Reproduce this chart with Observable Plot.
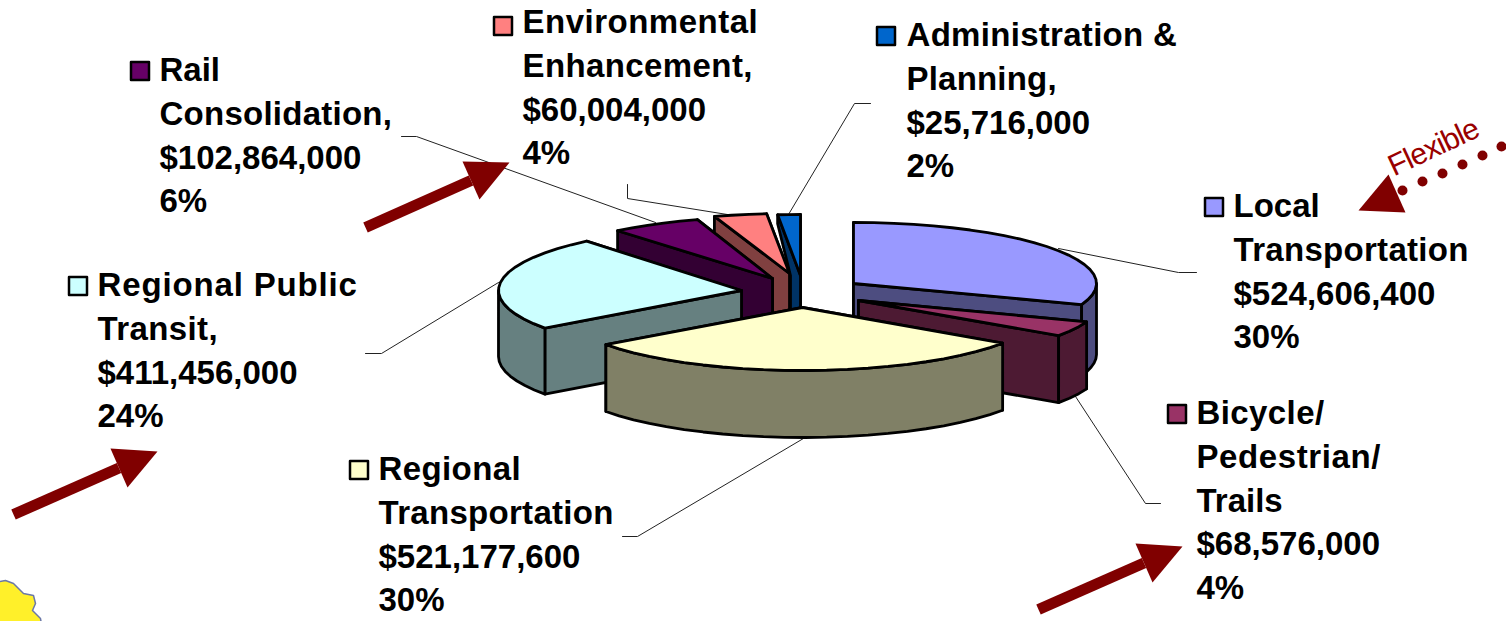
<!DOCTYPE html>
<html>
<head>
<meta charset="utf-8">
<style>html,body{margin:0;padding:0;background:#fff;overflow:hidden}svg{display:block}</style>
<script src="https://cdn.jsdelivr.net/npm/d3@7"></script>
<script src="https://cdn.jsdelivr.net/npm/@observablehq/plot@0.6"></script>
</head>
<body>
<script>
// ---- data
const categories = ["Local Transportation","Bicycle/ Pedestrian/ Trails","Regional Transportation","Regional Public Transit","Rail Consolidation,","Environmental Enhancement,","Administration & Planning,"];
const dollars = [524606400, 68576000, 521177600, 411456000, 102864000, 60004000, 25716000];
const percents = [30, 4, 30, 24, 6, 4, 2];
const nameLines = [["Local","Transportation"],["Bicycle/","Pedestrian/","Trails"],["Regional","Transportation"],["Regional Public","Transit,"],["Rail","Consolidation,"],["Environmental","Enhancement,"],["Administration &","Planning,"]];

// ---- styles
const topColors  = ["#9999ff","#993366","#ffffcc","#ccffff","#660066","#ff8080","#0066cc"];
const sideColors = ["#4d4d80","#4d1a33","#808066","#668080","#330033","#804040","#003366"];
const arrowColor = "#800000";

// ---- layout of the exploded pie: where each slice's apex sits on the page
const apexX = [853, 858, 802, 741, 772, 789, 800];
const apexY = [283, 300, 307, 290, 278, 273, 275];
const radiusY = [61, 62, 63, 64, 62, 60, 61];
const depths = [71, 67, 67, 66, 67, 67, 67];
const radiusX = 243;
const paintOrder = [6, 5, 4, 3, 0, 1, 2];

// ---- layout of the labels
const labelX = [1233, 1196, 378, 97, 159, 522, 906];
const labelY = [206, 413, 469, 285, 70, 22, 35];
const lineStep = 43.8;
const swatchX = [1205, 1168, 350, 69, 131, 494, 877];
const swatchY = [198, 405, 461, 277, 62, 17, 27];
const swatchSize = 18;
const lineTracking = {"Regional Public":0.85, "Transit,":0.4, "Transportation":0.3, "Administration &":0.3, "Environmental":0.5, "Enhancement,":0.4, "Consolidation,":0.25, "Planning,":0.2, "Pedestrian/":0.6, "Bicycle/":0.4, "Regional":0.4};

const leaders = [
  [[1196,272],[1178,272],[1058,248]],
  [[1160,503],[1145,503],[1075,396]],
  [[622,536],[637,536],[808,435]],
  [[365,353],[381,353],[498,282]],
  [[401,136],[416,136],[655,222]],
  [[627,184],[627,198],[733,215]],
  [[870,103],[854,103],[788,214]]
];
const arrows = [
  {tail:[365,227], tip:[509,162], a:[462,161], b:[479,199]},
  {tail:[13,514],  tip:[157,451], a:[110,448], b:[127,487]},
  {tail:[1038,609],tip:[1182,546],a:[1135,543],b:[1152,582]}
];
const flexibleHead = [[1358,210],[1388,174],[1405,212]];
const flexibleDots = [[1402,190],[1422,181],[1442,173],[1462,164],[1482,155],[1501,146]];
const blob = [[-5,582],[5,580],[13,583],[23,593],[33,595],[35,603],[32,610],[40,618],[42,630],[-5,630]];

// ---- geometry derived from the values
const total = d3.sum(dollars);
let running = 0;
const angles = dollars.map(v => { const a0 = running / total * 360; running += v; return [a0, running / total * 360]; });
const rad = d => d * Math.PI / 180;
const rimPoint = (i, a, dy = 0) => [apexX[i] + radiusX * Math.sin(rad(a)), apexY[i] - radiusY[i] * Math.cos(rad(a)) + dy];
const arc = (i, a0, a1, dy = 0) => {
  const n = Math.max(1, Math.ceil((a1 - a0) / 5));
  return d3.range(n + 1).map(k => rimPoint(i, a0 + (a1 - a0) * k / n, dy));
};
const apex = (i, dy = 0) => [apexX[i], apexY[i] + dy];

const poly = (pts, fill) => Plot.line([...pts, pts[0]], {x: d => d[0], y: d => d[1], fill, stroke: "#000", strokeWidth: 2.8, strokeLinejoin: "round"});

const pieMarks = [];
for (const i of paintOrder) {
  const [a0, a1] = angles[i], D = depths[i], side = sideColors[i];
  const mid = (a0 + a1) / 2;
  const wall = a => [apex(i), rimPoint(i, a), rimPoint(i, a, D), apex(i, D)];
  let startWall = wall(a0);
  if (i === 6) { // the sliver of the smallest slice shows only a narrow strip of its wall
    const r = rimPoint(i, a0);
    startWall = [apex(i), r, [r[0], r[1] + 9], [apexX[i] - 10, apexY[i]], [apexX[i] - 10, apexY[i] + D], apex(i, D)];
  }
  const walls = mid < 180 ? [startWall, wall(a1)] : [wall(a1), startWall];
  for (const w of walls) pieMarks.push(poly(w, side));
  const v0 = Math.max(a0, 90), v1 = Math.min(a1, 270);
  if (v1 > v0) pieMarks.push(poly([...arc(i, v0, v1), ...arc(i, v0, v1, D).reverse()], side));
  pieMarks.push(poly([apex(i), ...arc(i, a0, a1)], topColors[i]));
}

// ---- labels
const fmt = d3.format("$,");
const textRows = categories.flatMap((c, i) => {
  const lines = [...nameLines[i], fmt(dollars[i]), percents[i] + "%"];
  return lines.map((t, k) => ({t, x: labelX[i], y: labelY[i] + k * lineStep}));
});
const swatches = categories.map((c, i) => ({x1: swatchX[i], x2: swatchX[i] + swatchSize, y1: swatchY[i], y2: swatchY[i] + swatchSize, fill: topColors[i]}));

const chart = Plot.plot({
  width: 1506, height: 621,
  margin: 0,
  x: {domain: [0, 1506], range: [0, 1506], axis: null},
  y: {domain: [0, 621], range: [0, 621], axis: null},
  style: {background: "#fff"},
  marks: [
    ...leaders.map(l => Plot.line(l, {x: d => d[0], y: d => d[1], stroke: "#222", strokeWidth: 1})),
    ...pieMarks,
    ...arrows.flatMap(a => [
      Plot.line([a.tail, [(a.a[0]+a.b[0])/2, (a.a[1]+a.b[1])/2]], {x: d => d[0], y: d => d[1], stroke: arrowColor, strokeWidth: 11, strokeLinecap: "butt"}),
      Plot.line([a.tip, a.a, a.b, a.tip], {x: d => d[0], y: d => d[1], fill: arrowColor, stroke: "none"})
    ]),
    Plot.line([...flexibleHead, flexibleHead[0]], {x: d => d[0], y: d => d[1], fill: arrowColor, stroke: "none"}),
    Plot.dot(flexibleDots, {x: d => d[0], y: d => d[1], r: 5, fill: arrowColor}),
    Plot.text(["Flexible"], {x: [1433], y: [147], text: d => d, rotate: -25, fontSize: 30, fontFamily: "Liberation Sans", fill: "#990000", textAnchor: "middle"}),
    Plot.line([...blob, blob[0]], {x: d => d[0], y: d => d[1], fill: "#fff02a", stroke: "#6b78a8", strokeWidth: 1.5}),
    Plot.rect(swatches, {x1: "x1", x2: "x2", y1: "y1", y2: "y2", fill: "fill", stroke: "#000", strokeWidth: 2.5, strokeLinejoin: "round"}),
    Plot.text(textRows, {x: "x", y: "y", text: "t", textAnchor: "start", lineAnchor: "middle", fontSize: 33, fontWeight: "bold", fontFamily: "Liberation Sans", fill: "#000"})
  ]
});
d3.select(chart).selectAll("text").each(function () {
  const k = lineTracking[this.textContent];
  if (k) this.style.letterSpacing = k + "px";
  if (this.textContent === "Flexible") this.style.letterSpacing = "-0.9px";
});
document.body.appendChild(chart);
</script>
</body>
</html>
